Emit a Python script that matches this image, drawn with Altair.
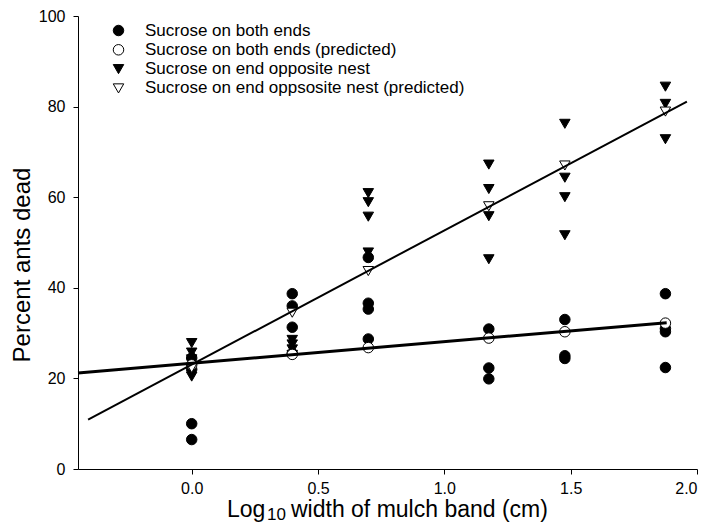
import altair as alt
import pandas as pd

# ---- data ----
S1 = "Sucrose on both ends"
S2 = "Sucrose on both ends (predicted)"
S3 = "Sucrose on end opposite nest"
S4 = "Sucrose on end oppsosite nest (predicted)"
series_names = [S1, S2, S3, S4]

# observed: sucrose on both ends (filled circles)
both_x = [0.0, 0.0, 0.0, 0.0,
          0.398, 0.398, 0.398, 0.398,
          0.699, 0.699, 0.699, 0.699,
          1.176, 1.176, 1.176,
          1.477, 1.477, 1.477,
          1.875, 1.875, 1.875, 1.875]
both_y = [10.0, 6.5, 22.0, 24.5,
          38.7, 36.0, 31.3, 25.5,
          46.7, 36.6, 35.3, 28.7,
          30.9, 22.3, 19.9,
          33.0, 25.0, 24.4,
          38.7, 31.0, 30.3, 22.4]

# observed: sucrose on end opposite nest (filled down-triangles)
opp_x = [0.0, 0.0, 0.0, 0.0,
         0.398, 0.398, 0.398, 0.398,
         0.699, 0.699, 0.699, 0.699,
         1.176, 1.176, 1.176, 1.176,
         1.477, 1.477, 1.477, 1.477,
         1.875, 1.875, 1.875]
opp_y = [27.8, 25.7, 24.2, 20.4,
         28.5, 27.5, 26.4, 25.2,
         60.9, 58.9, 55.7, 47.8,
         67.2, 61.8, 55.8, 46.3,
         76.2, 64.3, 60.0, 51.6,
         84.4, 80.6, 72.8]

# predicted values
pred_x = [0.0, 0.398, 0.699, 1.176, 1.477, 1.875]
both_pred_y = [23.0, 25.3, 26.8, 28.9, 30.3, 32.2]
opp_pred_y = [22.3, 34.5, 43.7, 58.0, 67.0, 78.9]

# fitted regression lines (end points)
both_line_x = [-0.45, 1.88]
both_line_y = [21.2, 32.3]
opp_line_x = [-0.41, 1.96]
opp_line_y = [10.9, 81.1]

x_ticks = [0.0, 0.5, 1.0, 1.5, 2.0]
y_ticks = [0, 20, 40, 60, 80, 100]

y_title = ["Percent ants dead"]
x_title_main = ["Log"]
x_title_sub = ["10"]
x_title_rest = ["width of mulch band (cm)"]

FONT = "Liberation Sans"

# ---- build tables ----
rows = []
rows += [{"x": a, "y": b, "series": S1} for a, b in zip(both_x, both_y)]
rows += [{"x": a, "y": b, "series": S3} for a, b in zip(opp_x, opp_y)]
rows += [{"x": a, "y": b, "series": S2} for a, b in zip(pred_x, both_pred_y)]
rows += [{"x": a, "y": b, "series": S4} for a, b in zip(pred_x, opp_pred_y)]
pts = pd.DataFrame(rows)
pts["order"] = range(len(pts))

line1 = pd.DataFrame({"x": both_line_x, "y": both_line_y})
line2 = pd.DataFrame({"x": opp_line_x, "y": opp_line_y})

xscale = alt.Scale(domain=[-0.45, 2.0], nice=False, zero=False)
yscale = alt.Scale(domain=[0, 100], nice=False)

xaxis = alt.Axis(values=x_ticks, format=".1f", title=None, grid=False,
                 labelPadding=6, labelFontSize=16, labelFont=FONT)
yaxis = alt.Axis(values=y_ticks, format="d", title=None, grid=False,
                 labelPadding=8, labelFontSize=16, labelFont=FONT)

legend = alt.Legend(title=None, orient="none", legendX=32, legendY=6,
                    labelFont=FONT, labelFontSize=17, labelColor="black",
                    labelLimit=0,
                    symbolSize=110, symbolStrokeColor="black",
                    symbolStrokeWidth=1, symbolOpacity=1,
                    rowPadding=1.3, labelOffset=18, padding=0)

points = alt.Chart(pts).mark_point(
    filled=True, strokeWidth=1, opacity=1, size=110
).encode(
    x=alt.X("x:Q", scale=xscale, axis=xaxis),
    y=alt.Y("y:Q", scale=yscale, axis=yaxis),
    shape=alt.Shape("series:N", scale=alt.Scale(
        domain=series_names,
        range=["circle", "circle", "triangle-down", "triangle-down"]),
        legend=legend),
    fill=alt.Fill("series:N", scale=alt.Scale(
        domain=series_names, range=["black", "white", "black", "white"]),
        legend=legend),
    stroke=alt.Stroke("series:N", scale=alt.Scale(
        domain=series_names, range=["black", "black", "black", "black"]),
        legend=legend),
    order=alt.Order("order:Q"),
)

l1 = alt.Chart(line1).mark_line(color="black", strokeWidth=3).encode(
    x=alt.X("x:Q", scale=xscale), y=alt.Y("y:Q", scale=yscale))
l2 = alt.Chart(line2).mark_line(color="black", strokeWidth=2).encode(
    x=alt.X("x:Q", scale=xscale), y=alt.Y("y:Q", scale=yscale))

ytitle = alt.Chart(pd.DataFrame({"t": y_title})).mark_text(
    font=FONT, fontSize=24, angle=270, align="center", baseline="middle",
    color="black"
).encode(text="t:N", x=alt.value(-55), y=alt.value(249))

xt1 = alt.Chart(pd.DataFrame({"t": x_title_main})).mark_text(
    font=FONT, fontSize=23, align="left", baseline="alphabetic", color="black"
).encode(text="t:N", x=alt.value(149), y=alt.value(501))
xt2 = alt.Chart(pd.DataFrame({"t": x_title_sub})).mark_text(
    font=FONT, fontSize=17, align="left", baseline="alphabetic", color="black"
).encode(text="t:N", x=alt.value(189), y=alt.value(504))
xt3 = alt.Chart(pd.DataFrame({"t": x_title_rest})).mark_text(
    font=FONT, fontSize=23, align="left", baseline="alphabetic", color="black"
).encode(text="t:N", x=alt.value(213), y=alt.value(501))

chart = alt.layer(points, l1, l2, ytitle, xt1, xt2, xt3).properties(
    width=619, height=453,
    autosize=alt.AutoSizeParams(type="none"),
    padding={"left": 70, "top": 8, "right": 6, "bottom": 55},
).configure_view(stroke=None).configure_axis(
    domainColor="black", tickColor="black", labelColor="black",
    tickSize=5, domainWidth=1, tickWidth=1
)

chart.save("out.html", embed_options={"renderer": "svg", "actions": False})
